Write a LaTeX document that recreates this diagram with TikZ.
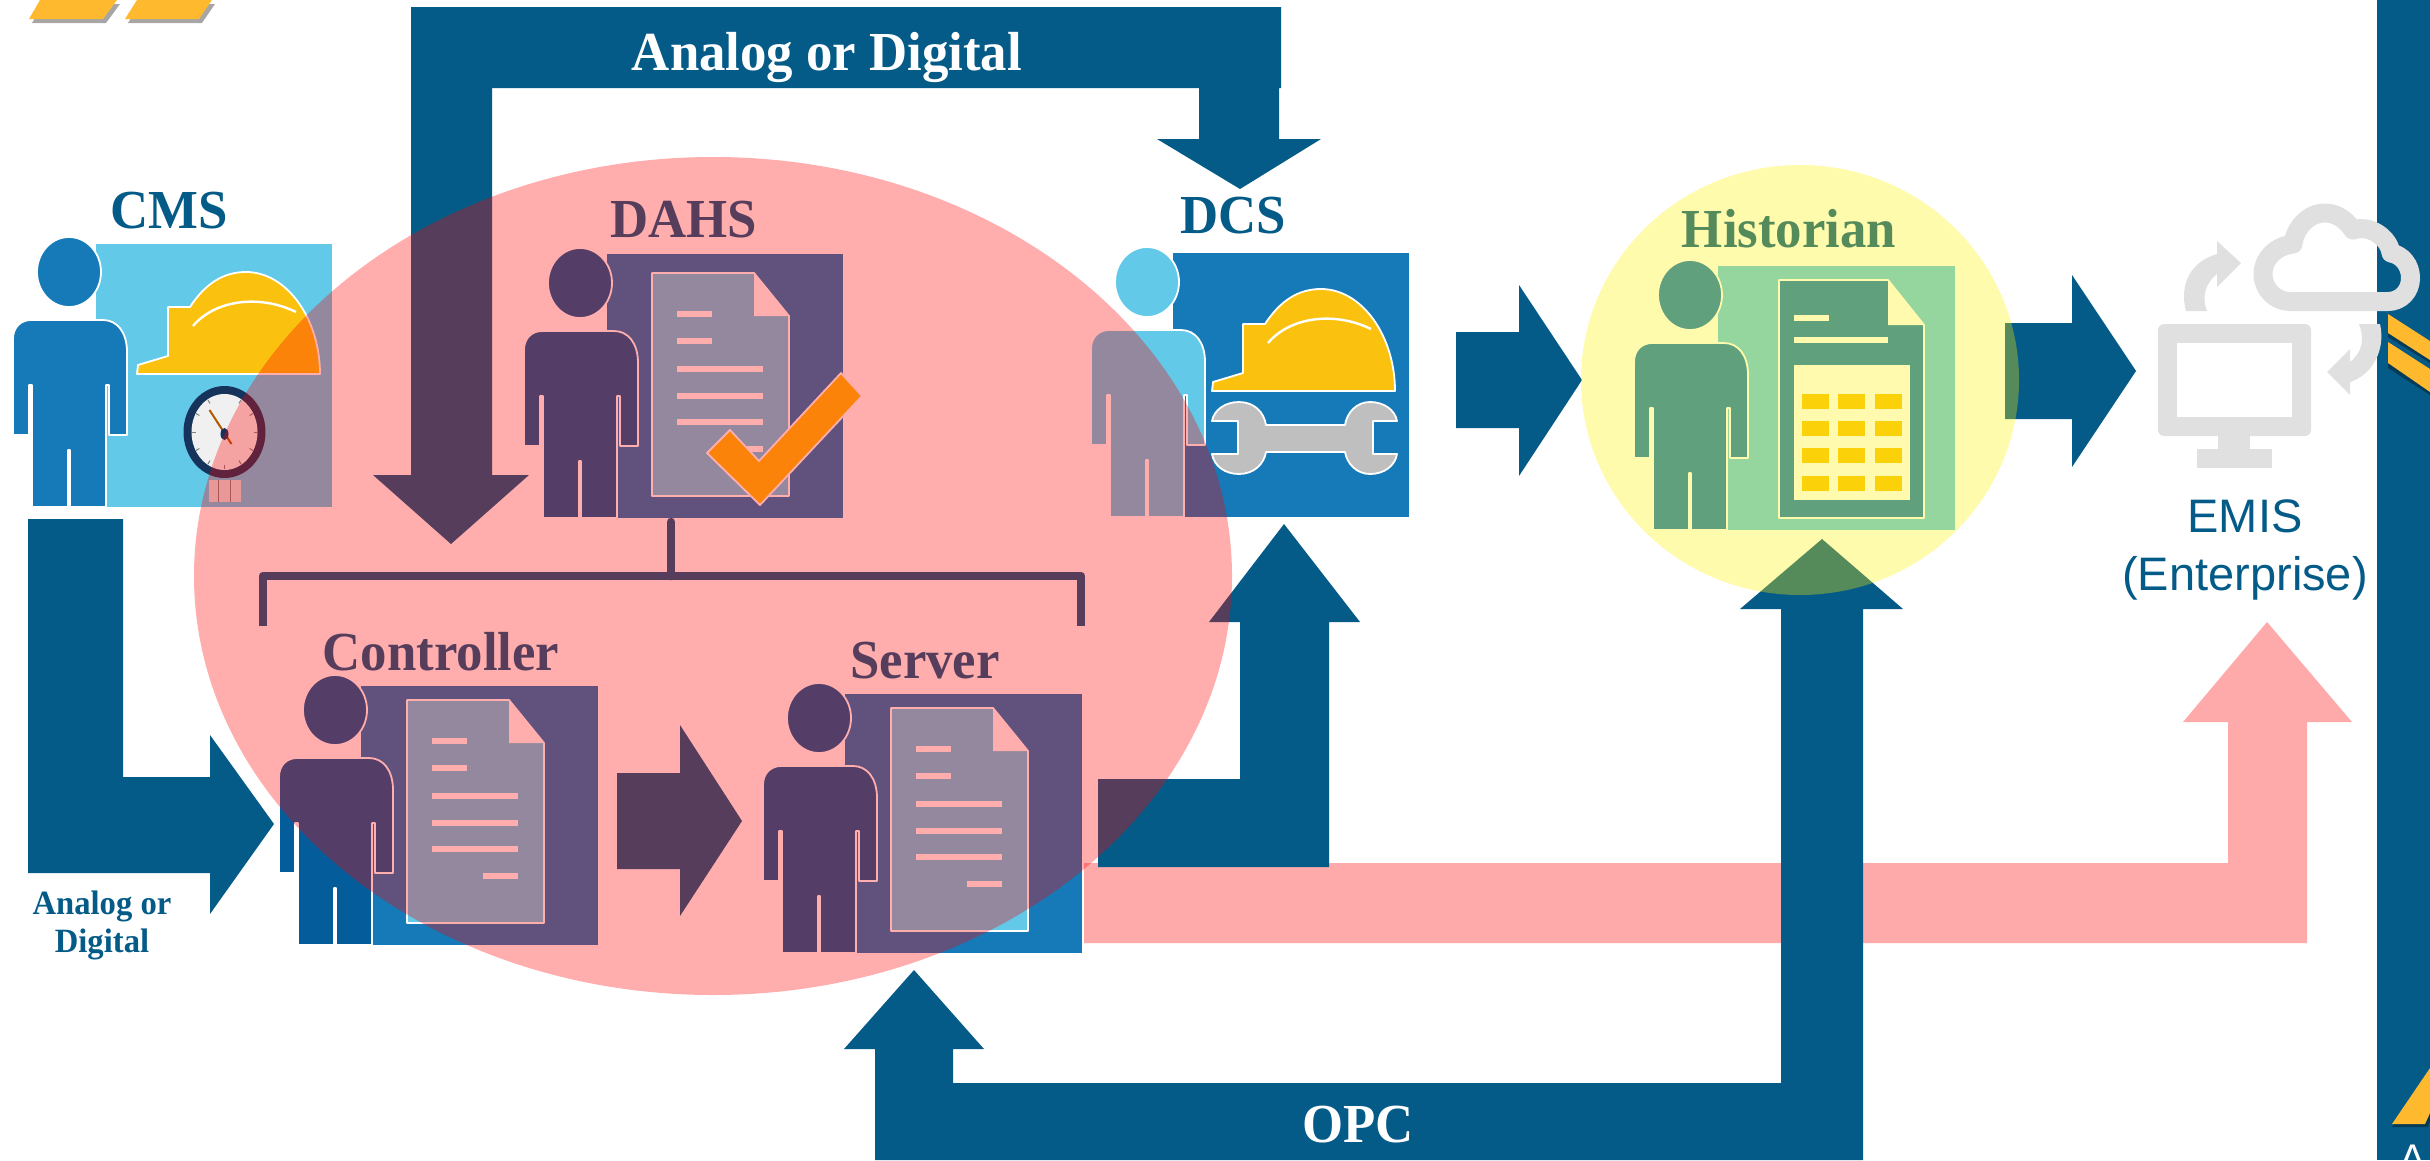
\documentclass[tikz,border=0pt]{standalone}
\usepackage{fontspec}
\usepackage{tikz}
\newfontfamily\labelfont[FakeStretch=0.96]{Liberation Serif}
\newfontfamily\emisfont{Liberation Sans}
\definecolor{flowblue}{HTML}{055B87}
\definecolor{midblue}{HTML}{167AB8}
\definecolor{deepblue}{HTML}{045C9A}
\definecolor{skyblue}{HTML}{62C9E9}
\definecolor{hatyellow}{HTML}{FAC20F}
\definecolor{stripe}{HTML}{FEB92E}
\definecolor{softgrey}{HTML}{E0E0E0}
\definecolor{pinkflow}{HTML}{FEAAAB}
\definecolor{gaugering}{HTML}{16335B}
\tikzstyle{flow}=[fill=flowblue]
\tikzstyle{icon}=[draw=white,line width=1.8pt,line join=round]
\tikzstyle{bigtag}=[font=\labelfont\bfseries\fontsize{55}{60}\selectfont,inner sep=0pt,anchor=base,text=flowblue]
\tikzstyle{smalltag}=[font=\labelfont\bfseries\fontsize{34}{38}\selectfont,inner sep=0pt,anchor=base,text=flowblue]
\tikzstyle{emistag}=[font=\emisfont\fontsize{47}{58}\selectfont,inner sep=0pt,anchor=base,text=flowblue]
\tikzstyle{cloudline}=[draw=softgrey,line width=19pt,line join=round]
\tikzstyle{bracketline}=[draw=flowblue,line width=8.5pt,line join=round]
\tikzstyle{shade}=[fill=black,opacity=0.35]

\newcommand{\persona}[3]{
	\begin{scope}[shift={(#1,#2)}]
		\fill[icon,fill=#3] (56,-235) ellipse [x radius=32,y radius=35];
		\fill[icon,fill=#3] (0,-72) -- (0,-168) .. controls (0,-180) and (8,-187) .. (18,-187) -- (90,-187)
			.. controls (104,-187) and (114,-175) .. (114,-155) -- (114,-72) -- (96,-72) -- (96,-122) -- (93,-122)
			-- (93,0) -- (57,0) -- (57,-57) -- (55,-57) -- (55,0) -- (19,0) -- (19,-122) -- (16,-122) -- (16,-72) -- cycle;
	\end{scope}
}
\newcommand{\docsheet}[2]{
	\begin{scope}[shift={(#1,#2)}]
		\fill[icon,fill=skyblue] (128,-245) -- (230,-245) -- (265,-202) -- (265,-22) -- (128,-22) -- cycle;
		\fill[white] (230,-245) -- (265,-202) -- (230,-202) -- cycle;
		\foreach \y in {-204,-177} {\fill[white] (153,\y-3) rectangle (188,\y+3);}
		\foreach \y in {-149,-122,-96} {\fill[white] (153,\y-3) rectangle (239,\y+3);}
		\fill[white] (204,-72) rectangle (239,-66);
	\end{scope}
}
\newcommand{\hardhat}[2]{
	\begin{scope}[shift={(#1,#2)}]
		\fill[icon,fill=hatyellow] (0,0) -- (1,-9) -- (31,-18) -- (31,-67) -- (53,-67)
			.. controls (68,-90) and (86,-102) .. (109,-102) .. controls (150,-102) and (183,-55) .. (183,0) -- cycle;
		\draw[white,line width=2.4pt] (56,-48) .. controls (78,-74) and (122,-80) .. (159,-62);
	\end{scope}
}

\begin{document}
\begin{tikzpicture}[x=1pt,y=-1pt]
\clip (0,0) rectangle (2430,1160);
%side bar and stripes
\fill[flow] (2377,0) rectangle (2430,1160);
\fill[shade] (32,23) -- (106,23) -- (120,4) -- (43,4) -- cycle;
\fill[shade] (128,23) -- (202,23) -- (215,4) -- (140,4) -- cycle;
\fill[stripe] (29,19) -- (103,19) -- (117,0) -- (40,0) -- cycle;
\fill[stripe] (125,19) -- (199,19) -- (212,0) -- (137,0) -- cycle;
\fill[shade] (2392,1127) -- (2428,1127) -- (2433,1113) -- (2433,1071) -- cycle;
\fill[stripe] (2392,1124) -- (2425,1124) -- (2430,1113) -- (2430,1068) -- cycle;

%arrows below the circles
\fill[pinkflow] (1084,863) -- (2228,863) -- (2228,722) -- (2183,722) -- (2267,622) -- (2352,722) -- (2307,722) -- (2307,943) -- (1084,943) -- cycle;
\fill[flow] (411,7) -- (1281,7) -- (1281,88) -- (1279,88) -- (1279,139) -- (1321,139) -- (1240,189) -- (1157,139)
	-- (1199,139) -- (1199,88) -- (492,88) -- (492,475) -- (529,475) -- (451,544) -- (373,475) -- (411,475) -- cycle;
\fill[flow] (28,519) -- (123,519) -- (123,777) -- (210,777) -- (210,735) -- (274,824) -- (210,914) -- (210,873) -- (28,873) -- cycle;
\fill[flow] (617,773) -- (680,773) -- (680,725) -- (742,821) -- (680,916) -- (680,869) -- (617,869) -- cycle;
\fill[flow] (1098,779) -- (1240,779) -- (1240,622) -- (1209,622) -- (1284,524) -- (1360,622) -- (1329,622) -- (1329,867) -- (1098,867) -- cycle;
\fill[flow] (1456,332) -- (1519,332) -- (1519,285) -- (1582,380) -- (1519,476) -- (1519,428) -- (1456,428) -- cycle;
\fill[flow] (2005,323) -- (2072,323) -- (2072,275) -- (2136,371) -- (2072,467) -- (2072,419) -- (2005,419) -- cycle;
\fill[flow] (1781,609) -- (1740,609) -- (1822,539) -- (1903,609) -- (1863,609) -- (1863,1160) -- (875,1160) -- (875,1049)
	-- (844,1049) -- (914,970) -- (984,1049) -- (953,1049) -- (953,1083) -- (1781,1083) -- cycle;

%icons
\fill[skyblue] (96,244) rectangle (332,507);
\hardhat{137}{374}
\persona{13}{507}{midblue}
\begin{scope}[shift={(224.5,432)}]
	\fill[gaugering] (0,0) ellipse [x radius=41,y radius=46];
	\fill[white!94!black] (0,0) ellipse [x radius=33,y radius=38];
	\foreach \a in {-60,-30,...,240} {\draw[gray,line width=1pt] (\a:29 and 33) -- (\a:33 and 37);}
	\fill[gray!25!white] (-16,48) rectangle (16,70);
	\draw[gray,line width=1.5pt] (-6,48) -- (-6,70) (6,48) -- (6,70);
	\draw[orange!70!black,line width=2pt] (-15,-22) -- (7,12);
	\fill[gaugering] (0,2) ellipse [x radius=4,y radius=6];
\end{scope}

\fill[midblue] (607,254) rectangle (843,518);
\docsheet{524}{518}
\persona{524}{518}{deepblue}
\fill[icon,fill=hatyellow] (707,453) -- (730,430) -- (759,461) -- (841,373) -- (862,396) -- (760,505) -- cycle;

\fill[midblue] (1173,253) rectangle (1409,517);
\hardhat{1212}{391}
\fill[icon,fill=gray!50!white] (1212,421) .. controls (1214,410) and (1225,402) .. (1239,402) .. controls (1254,402) and (1264,412) .. (1266,425)
	-- (1345,425) .. controls (1347,412) and (1357,402) .. (1370,402) .. controls (1384,402) and (1395,410) .. (1397,421) -- (1373,421)
	-- (1373,454) -- (1397,454) .. controls (1395,466) and (1384,474) .. (1370,474) .. controls (1357,474) and (1347,464) .. (1345,452)
	-- (1266,452) .. controls (1264,464) and (1254,474) .. (1239,474) .. controls (1225,474) and (1214,466) .. (1212,454) -- (1238,454) -- (1238,421) -- cycle;
\persona{1091}{517}{skyblue}

\fill[midblue] (361,686) rectangle (598,945);
\docsheet{279}{945}
\persona{279}{945}{deepblue}

\fill[midblue] (845,694) rectangle (1082,953);
\docsheet{763}{953}
\persona{763}{953}{deepblue}

\fill[skyblue] (1718,266) rectangle (1955,530);
\fill[icon,fill=midblue] (1779,280) -- (1888,280) -- (1924,325) -- (1924,518) -- (1779,518) -- cycle;
\fill[white] (1888,280) -- (1924,325) -- (1888,325) -- cycle;
\fill[white] (1794,315) rectangle (1829,321);
\fill[white] (1794,337) rectangle (1888,343);
\fill[white] (1794,365) rectangle (1910,500);
\foreach \xk in {1802,1838,1875} {
	\foreach \yk in {394,421,448,476} {
		\fill[hatyellow] (\xk,\yk) rectangle (\xk+27,\yk+15);
	}
}
\persona{1634}{530}{midblue}

%labels under the circles
\node[bigtag] (cms) at (169,228) {CMS};
\node[bigtag,text=white] (analog) at (827,70) {Analog or Digital};
\node[bigtag] (dahs) at (684,237) {DAHS};
\node[bigtag] (dcs) at (1233,233) {DCS};
\node[bigtag] (historian) at (1789,247) {Historian};
\node[bigtag] (controller) at (441,670) {Controller};
\node[bigtag] (server) at (925,678) {Server};
\node[bigtag,text=white] (opc) at (1358,1142) {OPC};

%bracket
\coordinate (BT) at (671,522);
\coordinate (BM) at (671,576);
\coordinate (BL) at (263,626);
\coordinate (BLT) at (263,576);
\coordinate (BRT) at (1081,576);
\coordinate (BR) at (1081,626);
\draw[bracketline] (BL) -- (BLT) -- (BRT) -- (BR);
\draw[bracketline,line cap=round] (BT) -- (BM);

%circles
\fill[red,fill opacity=0.32] (713,576) ellipse [x radius=519,y radius=419];
\fill[yellow,fill opacity=0.32] (1800,380) ellipse [x radius=219,y radius=215];

\node[smalltag] (analogb) at (102,914) {Analog or};
\node[smalltag] (digitalb) at (102,952) {Digital};

%emis icon
\fill[softgrey,rounded corners=6pt] (2158,324) rectangle (2311,436);
\fill[white] (2177,343) rectangle (2292,417);
\fill[softgrey] (2218,436) rectangle (2250,449);
\fill[softgrey] (2197,449) rectangle (2272,468);
\draw[cloudline] (2290,301.5) -- (2388,301.5) .. controls (2401,301.5) and (2410.5,291) .. (2410.5,278) .. controls (2410.5,265) and (2402,255) .. (2391,253)
	.. controls (2389,238) and (2370,224) .. (2353,230) .. controls (2346,220) and (2337,213) .. (2325,213)
	.. controls (2308,213) and (2295,228) .. (2293,244) .. controls (2276,246) and (2263,258) .. (2263,274) .. controls (2263,290) and (2276,301.5) .. (2290,301.5) -- cycle;
\fill[softgrey] (2186,311) -- (2207,311) .. controls (2201,297) and (2206,282) .. (2217,274) -- (2217,287) -- (2241,263) -- (2217,241) -- (2217,254)
	.. controls (2190,262) and (2179,285) .. (2186,311) -- cycle;
\fill[softgrey] (2380,324) -- (2359,324) .. controls (2365,340) and (2362,352) .. (2350,362) -- (2350,349) -- (2327,372) -- (2350,395) -- (2350,382)
	.. controls (2372,375) and (2386,350) .. (2380,324) -- cycle;
\fill[shade] (2388,319) -- (2433,346) -- (2433,365) -- (2388,337) -- cycle;
\fill[stripe] (2388,314) -- (2430,341) -- (2430,360) -- (2388,333) -- cycle;
\fill[shade] (2388,347) -- (2433,374) -- (2433,397) -- (2388,368) -- cycle;
\fill[stripe] (2388,342) -- (2430,369) -- (2430,392) -- (2388,363) -- cycle;
\node[emistag] (emis) at (2245,532) {EMIS};
\node[emistag] (enterprise) at (2245,590) {(Enterprise)};
\node[font=\emisfont\fontsize{40}{40}\selectfont,text=white,inner sep=0pt,anchor=base] (sidea) at (2413,1172) {A};
\end{tikzpicture}
\end{document}
